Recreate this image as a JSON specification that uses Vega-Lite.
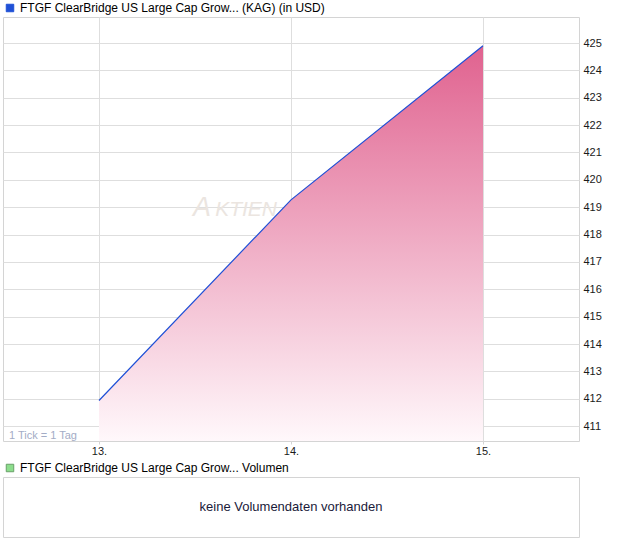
{
  "$schema": "https://vega.github.io/schema/vega-lite/v6.json",
  "padding": {"left": 2, "top": 1, "right": 0, "bottom": 0},
  "background": "white",
  "spacing": 4,
  "config": {
    "font": "Liberation Sans",
    "view": {"stroke": "#d4d4d4"},
    "axis": {"labelFont": "Liberation Sans", "labelFontSize": 11, "labelColor": "#1a1a1a", "gridColor": "#dedede", "domain": false, "labelOverlap": false, "labelFlush": false},
    "legend": {"padding": 0, "labelFont": "Liberation Sans", "labelFontSize": 12, "labelColor": "#000000", "labelOffset": 4, "symbolSize": 56, "labelLimit": 500}
  },
  "resolve": {"scale": {"x": "independent", "y": "independent", "color": "independent"}, "legend": {"color": "independent"}},
  "vconcat": [
    {
      "width": 576,
      "height": 424,
      "encoding": {
        "x": {"field": "tag", "type": "quantitative", "scale": {"domain": [12.5, 15.5], "nice": false, "zero": false}, "axis": {"orient": "bottom", "values": [13, 14, 15], "labelExpr": "datum.value + '.'", "grid": true, "tickSize": 3, "tickColor": "#d4d4d4", "labelPadding": 1, "title": null}},
        "y": {"field": "kurs", "type": "quantitative", "scale": {"domain": [410.46, 425.95], "nice": false, "zero": false}, "axis": {"orient": "right", "values": [411, 412, 413, 414, 415, 416, 417, 418, 419, 420, 421, 422, 423, 424, 425], "grid": true, "ticks": false, "labelPadding": 4, "title": null}}
      },
      "layer": [
        {
          "data": {"values": [{"tag": 13.49, "kurs": 418.69, "t": "A"}]},
          "mark": {"type": "text", "align": "left", "baseline": "alphabetic", "fontSize": 27, "fontStyle": "italic", "color": "#ebe5e0", "font": "Liberation Sans"},
          "encoding": {"text": {"field": "t"}}
        },
        {
          "data": {"values": [{"tag": 13.605, "kurs": 418.69, "t": "KTIEN"}]},
          "mark": {"type": "text", "align": "left", "baseline": "alphabetic", "fontSize": 21, "fontStyle": "italic", "color": "#ebe5e0", "font": "Liberation Sans"},
          "encoding": {"text": {"field": "t"}}
        },
        {
          "data": {"values": [
            {"tag": 13, "kurs": 411.94, "serie": "FTGF ClearBridge US Large Cap Grow... (KAG) (in USD)"},
            {"tag": 14, "kurs": 419.27, "serie": "FTGF ClearBridge US Large Cap Grow... (KAG) (in USD)"},
            {"tag": 15, "kurs": 424.9, "serie": "FTGF ClearBridge US Large Cap Grow... (KAG) (in USD)"}
          ]},
          "layer": [
            {
              "mark": {"type": "area", "clip": true, "fill": {"gradient": "linear", "x1": 0, "y1": 0, "x2": 0, "y2": 1, "stops": [{"offset": 0, "color": "#e0628f"}, {"offset": 1, "color": "#fff8fb"}]}},
              "encoding": {"y2": {"datum": 410.46}}
            },
            {
              "mark": {"type": "line", "strokeWidth": 1.2},
              "encoding": {
                "color": {"field": "serie", "type": "nominal", "scale": {"range": ["#1f50d6"]}, "legend": {"orient": "none", "legendX": 1, "legendY": -15, "title": null, "symbolType": "square", "symbolFillColor": "#1f50d6", "symbolStrokeColor": "#0d2a7a", "symbolStrokeWidth": 1}}
              }
            }
          ]
        },
        {
          "data": {"values": [{"tag": 12.531, "kurs": 410.55, "t": "1 Tick = 1 Tag"}]},
          "mark": {"type": "text", "align": "left", "baseline": "alphabetic", "fontSize": 11, "color": "#a3acc6", "font": "Liberation Sans"},
          "encoding": {"text": {"field": "t"}}
        }
      ]
    },
    {
      "width": 576,
      "height": 60,
      "data": {"values": [{"px": 0.5, "py": 0.5, "msg": "keine Volumendaten vorhanden", "serie2": "FTGF ClearBridge US Large Cap Grow... Volumen"}]},
      "encoding": {
        "x": {"field": "px", "type": "quantitative", "scale": {"domain": [0, 1]}, "axis": null},
        "y": {"field": "py", "type": "quantitative", "scale": {"domain": [0, 1]}, "axis": null}
      },
      "layer": [
        {
          "mark": {"type": "square", "filled": true, "size": 0},
          "encoding": {
            "color": {"field": "serie2", "type": "nominal", "scale": {"range": ["#5ccf5c"]}, "legend": {"orient": "none", "legendX": 1, "legendY": -15, "title": null, "symbolType": "square", "symbolSize": 56, "symbolStrokeColor": "#2a7a2a", "symbolStrokeWidth": 1}}
          }
        },
        {
          "mark": {"type": "text", "fontSize": 13, "font": "Liberation Sans", "align": "center", "baseline": "middle", "color": "#1a1a3a"},
          "encoding": {"text": {"field": "msg"}}
        }
      ]
    }
  ]
}
